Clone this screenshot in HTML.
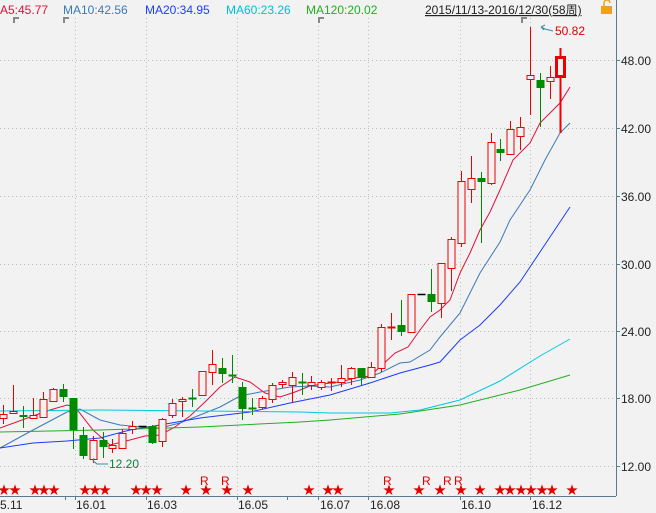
<!DOCTYPE html>
<html><head><meta charset="utf-8"><style>
html,body{margin:0;padding:0;background:#f2f2f2;width:656px;height:513px;overflow:hidden}
svg{display:block}
text{font-family:"Liberation Sans","Noto Sans CJK SC",sans-serif;font-size:12px}
</style></head><body>
<svg id="s" width="656" height="513" xmlns="http://www.w3.org/2000/svg">
<rect width="656" height="513" fill="#f2f2f2"/>
<g id="grid" stroke="#bdbdbd" stroke-width="1" stroke-dasharray="1,3"></g>
<g id="ma" fill="none"></g>
<g id="c"></g>
<line x1="616.5" y1="0" x2="616.5" y2="496" stroke="#5a7a90"/>
<line x1="0" y1="496.5" x2="616" y2="496.5" stroke="#5a7a90"/>
<g id="ax" fill="#222"></g>
<text x="0" y="14" fill="#e0103c">A5:45.77</text>
<text x="63" y="14" fill="#3a7ab8">MA10:42.56</text>
<text x="145" y="14" fill="#1a3cff">MA20:34.95</text>
<text x="226" y="14" fill="#00c0d8">MA60:23.26</text>
<text x="306" y="14" fill="#20b020">MA120:20.02</text>
<text x="425" y="14" fill="#222" text-decoration="underline">2015/11/13-2016/12/30(58周)</text>
<rect x="601" y="6" width="11" height="8" fill="#f0a020"/>
<path d="M604 6 V3 a3 3 0 0 1 6 0" fill="none" stroke="#f0a020" stroke-width="1.5"/>
<g stroke="#888" stroke-width="2" fill="none">
<path d="M14 23 V18 H19"/><path d="M64 23 V18 H69"/><path d="M319 23 V18 H324"/><path d="M522 23 V18 H527"/>
</g>
<text x="555" y="35" fill="#e00000">50.82</text>
<path d="M553 31 L545 29 L541 27 M541 27 l4 -2 M541 27 l3 3" stroke="#3a8aa0" fill="none"/>
<text x="109" y="468" fill="#108040">12.20</text>
<path d="M108 464 L97 464 L93 461 M93 461 l1 -3 M93 461 l3 2" stroke="#3a8aa0" fill="none"/>
<g id="st" fill="#e00000"></g>
</svg>
<script>
var NS="http://www.w3.org/2000/svg";
function el(p,t,a,txt){var e=document.createElementNS(NS,t);for(var k in a)e.setAttribute(k,a[k]);if(txt)e.textContent=txt;document.getElementById(p).appendChild(e);return e;}
[60,128,196,264,331,398,466].forEach(function(y){el('grid','line',{x1:0,x2:616,y1:y+.5,y2:y+.5});});
[75,146,237,318,368,460,530].forEach(function(x){el('grid','line',{x1:x+.5,x2:x+.5,y1:18,y2:496});});
var L=[["48.00",60],["42.00",128],["36.00",196],["30.00",264],["24.00",331],["18.00",398],["12.00",466]];
L.forEach(function(l){el('ax','text',{x:621,y:l[1]+5},l[0]);el('ax','line',{x1:616,x2:620,y1:l[1]+.5,y2:l[1]+.5,stroke:'#5a7a90'});});
[[0,"5.11"],[76,"16.01"],[147,"16.03"],[238,"16.05"],[320,"16.07"],[370,"16.08"],[461,"16.10"],[532,"16.12"]].forEach(function(d){el('ax','text',{x:d[0],y:509},d[1]);});
[65,75,146,237,287,318,368,460,530].forEach(function(x){el('ax','line',{x1:x+.5,x2:x+.5,y1:496,y2:500,stroke:'#5a7a90'});});
var C=[
['r',414,418,405,424],['r',411,413,385,413],['g',415,417,406,428],['r',415,418,398,418],['r',399,417,392,418],
['r',389,401,388,402],['g',389,397,384,402],['g',398,430,398,449],['g',435,456,427,459],['r',440,459,436,463],
['g',440,447,432,458],['r',445,448,439,453],['r',433,448,429,449],['r',426,429,421,434],['k',426,426,426,426],
['g',426,443,425,444],['r',419,441,418,447],['r',403,415,399,418],['r',399,401,397,417],['g',398,398,389,407],
['r',371,395,371,396],['r',364,372,350,385],['g',368,374,358,383],['g',375,375,355,383],['g',387,409,382,420],
['g',408,408,398,415],['r',398,407,396,409],['r',385,399,383,403],['r',382,384,380,388],['r',377,385,372,403],
['g',382,382,373,395],['r',382,385,376,390],['r',382,387,380,390],['r',382,382,378,391],['r',378,382,365,387],
['r',368,378,367,385],['g',368,378,368,385],['r',367,377,362,378],['r',327,368,324,372],['r',327,327,313,340],
['g',325,332,300,336],['r',294,332,294,332],['k',294,294,294,294],['g',294,302,269,312],['r',263,303,263,318],
['r',239,268,237,291],['r',181,243,171,247],['r',178,189,156,203],['g',178,182,172,243],['r',142,183,133,185],
['g',149,153,139,161],['r',129,154,121,155],['r',127,136,117,150],['r',75,79,27,115],['g',80,88,73,127],
['r',77,81,66,99],['r',57,76,48,133]];
C.forEach(function(c,i){
  var x=Math.round(3+9.95*i)+.5, last=(i==C.length-1);
  var col=c[0]=='r'?'#ee0000':(c[0]=='g'?'#008a00':'#000');
  var sw=last?3:1, w=last?9:8;
  if(c[0]=='k'){el('c','line',{x1:x-4,x2:x+4,y1:c[1]+.5,y2:c[1]+.5,stroke:'#000','stroke-width':1.5});return;}
  el('c','line',{x1:x,x2:x,y1:c[3],y2:c[4],stroke:col,'stroke-width':last?2:1});
  var h=c[2]-c[1];
  if(c[0]=='g'){ if(h<2){el('c','line',{x1:x-4,x2:x+4,y1:c[1]+.5,y2:c[1]+.5,stroke:col,'stroke-width':2});}
    else el('c','rect',{x:x-4,y:c[1],width:8,height:h,fill:col});}
  else { if(h<2){el('c','line',{x1:x-4,x2:x+4,y1:c[1]+.5,y2:c[1]+.5,stroke:col,'stroke-width':2});}
    else el('c','rect',{x:x-w/2+.5,y:c[1]+.5,width:w-1,height:h,fill:'#f2f2f2',stroke:col,'stroke-width':sw});}
});
function pl(pts,col,w){el('ma','polyline',{points:pts.map(function(p){return p.join(',')}).join(' '),stroke:col,'stroke-width':w||1});}
pl([[0,428],[33,416],[50,410],[67,405],[75,407],[93,430],[110,445],[130,440],[145,436],[160,435],[175,427],[190,416],[205,402],[220,387],[235,377],[250,382],[265,393],[280,397],[295,392],[310,386],[330,383],[340,382],[355,378],[370,376],[380,367],[395,353],[408,347],[420,330],[430,317],[440,310],[450,300],[460,273],[470,253],[480,230],[490,212],[500,190],[513,160],[530,143],[540,123],[560,103],[570,87]],'#e0103c');
pl([[0,448],[33,430],[67,412],[80,409],[100,420],[120,425],[140,427],[160,428],[180,423],[200,415],[220,407],[240,396],[260,392],[290,387],[310,386],[330,387],[360,380],[380,373],[400,363],[410,362],[430,350],[440,337],[460,313],[480,273],[500,242],[510,220],[530,190],[545,160],[560,133],[570,123]],'#3a7ab8');
pl([[0,448],[33,443],[67,441],[100,438],[130,430],[160,425],[200,418],[250,412],[290,403],[330,395],[370,383],[400,373],[430,365],[440,362],[460,340],[480,325],[500,305],[520,282],[540,252],[560,222],[570,207]],'#1a3cff');
pl([[0,411],[100,410],[200,411],[300,412],[330,413],[390,413],[420,410],[460,400],[500,381],[540,356],[570,339]],'#00c8e0');
pl([[0,432],[100,430],[200,427],[300,422],[330,420],[400,414],[460,405],[520,390],[570,375]],'#20b020');
[2,13,33,42,52,83,93,103,134,144,155,184,204,225,246,307,326,336,387,417,438,459,478,498,508,519,529,540,550,570].forEach(function(x){el('st','text',{x:x-4,y:494,'font-size':'10'},'★');});
[[204],[225],[387],[426],[447],[458]].forEach(function(r){el('st','text',{x:r[0]-4,y:485,'font-size':'10'},'R');});
</script>
</body></html>
